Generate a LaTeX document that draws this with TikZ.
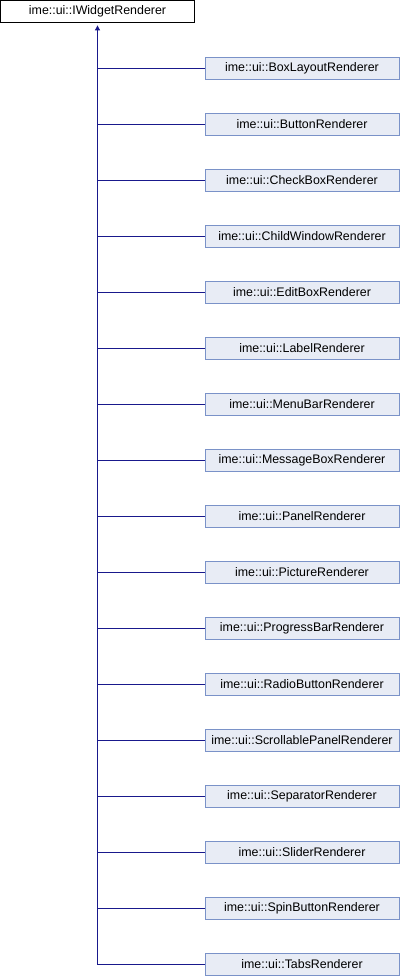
\documentclass[tikz,border=0pt]{standalone}
\usepackage{fontspec}
\setmainfont{Liberation Sans}
\usetikzlibrary{arrows.meta}
\definecolor{boxfill}{RGB}{232,236,245}
\definecolor{boxdraw}{RGB}{122,146,200}
\definecolor{edge}{RGB}{25,25,140}
\tikzset{
  x=1bp,y=-1bp,
  base/.style={draw=black,fill=white,line width=0.8bp,minimum width=194bp,minimum height=22bp,inner sep=0pt,font=\fontsize{12.4bp}{14bp}\selectfont},
  child/.style={draw=boxdraw,fill=boxfill,line width=0.8bp,minimum width=194bp,minimum height=22bp,inner sep=0pt,font=\fontsize{12.4bp}{14bp}\selectfont},
  conn/.style={draw=edge,line width=0.9bp}
}
\begin{document}
\begin{tikzpicture}
\useasboundingbox (0,0) rectangle (400,976);
\node[base] (root) at (97.5,11.5) {ime::ui::IWidgetRenderer};
\coordinate (spine) at (97.5,964.5);
\foreach \n [count=\i from 0] in {BoxLayoutRenderer,ButtonRenderer,CheckBoxRenderer,ChildWindowRenderer,EditBoxRenderer,LabelRenderer,MenuBarRenderer,MessageBoxRenderer,PanelRenderer,PictureRenderer,ProgressBarRenderer,RadioButtonRenderer,ScrollablePanelRenderer,SeparatorRenderer,SliderRenderer,SpinButtonRenderer,TabsRenderer}{
  \node[child] (c\i) at (302,68.5+56*\i) {ime::ui::\n};
  \coordinate (j\i) at (97.5,68.5+56*\i);
  \draw[conn] (j\i) -- (c\i.west);
}
\draw[conn,shorten >=2.5bp,-{Triangle[length=5bp,width=5bp]}] (spine) -- (root.south);
\end{tikzpicture}
\end{document}
